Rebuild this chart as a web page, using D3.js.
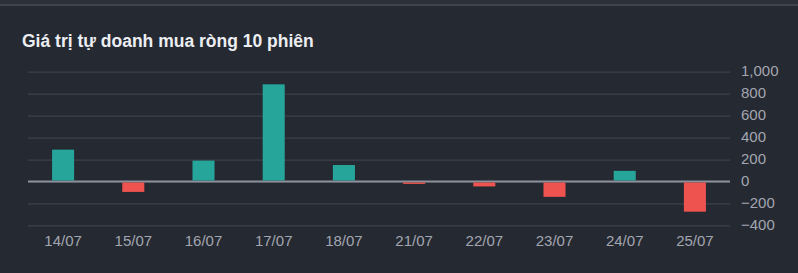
<!DOCTYPE html>
<html lang="vi">
<head>
<meta charset="utf-8">
<title>Giá trị tự doanh mua ròng 10 phiên</title>
<script src="https://cdn.jsdelivr.net/npm/d3@7"></script>
<style>
  body { margin: 0; background: #252932; }
  svg { display: block; }
</style>
</head>
<body>
<script>
// data
var dates = ["14/07", "15/07", "16/07", "17/07", "18/07", "21/07", "22/07", "23/07", "24/07", "25/07"];
var values = [290, -95, 190, 885, 150, -22, -45, -140, 97, -275];
var yTicks = [-400, -200, 0, 200, 400, 600, 800, 1000];

var width = 798, height = 273;
var plotLeft = 28, plotRight = 730, plotTop = 71.7, plotBottom = 225.4;

var svg = d3.select("body").append("svg")
    .attr("width", width)
    .attr("height", height);

svg.append("rect").attr("width", width).attr("height", height).attr("fill", "#252932");
svg.append("rect").attr("width", width).attr("height", 5).attr("fill", "#2c3039");
svg.append("rect").attr("y", 4).attr("width", width).attr("height", 2).attr("fill", "#40444d");

svg.append("text")
    .attr("x", 22)
    .attr("y", 47)
    .attr("fill", "#eceef2")
    .style("font-family", "'Liberation Sans', Arial, sans-serif")
    .style("font-size", "17.5px")
    .style("font-weight", "bold")
    .text("Giá trị tự doanh mua ròng 10 phiên");

var x = d3.scaleBand()
    .domain(dates)
    .range([plotLeft, plotRight])
    .paddingInner(0.686)
    .paddingOuter(0.343);

var y = d3.scaleLinear()
    .domain([-400, 1000])
    .range([plotBottom, plotTop]);

// y axis with gridlines
var yAxis = svg.append("g")
    .attr("transform", "translate(" + plotRight + ",0)")
    .call(d3.axisRight(y).tickValues(yTicks).tickFormat(d3.format(",")).tickSize(-(plotRight - plotLeft)).tickPadding(11));
yAxis.select(".domain").remove();
yAxis.selectAll(".tick line").attr("stroke", "#3d414b").attr("stroke-width", 1.2);
yAxis.selectAll(".tick text")
    .attr("dy", "0.25em")
    .attr("fill", "#a3a6b0")
    .style("font-family", "'Liberation Sans', Arial, sans-serif")
    .style("font-size", "15px");

// zero line
svg.append("line")
    .attr("x1", plotLeft).attr("x2", plotRight)
    .attr("y1", y(0)).attr("y2", y(0))
    .attr("stroke", "#8e919c")
    .attr("stroke-width", 2);

// bars
svg.selectAll("rect.bar")
    .data(values)
    .enter()
    .append("rect")
    .attr("class", "bar")
    .attr("x", function(d, i){ return x(dates[i]); })
    .attr("width", x.bandwidth())
    .attr("y", function(d){ return d >= 0 ? y(d) : y(0) + 1; })
    .attr("height", function(d){ return d >= 0 ? y(0) - y(d) - 1 : y(d) - y(0) - 1; })
    .attr("fill", function(d){ return d >= 0 ? "#26a69a" : "#ef5350"; });

// x axis
var xAxis = svg.append("g")
    .attr("transform", "translate(0," + plotBottom + ")")
    .call(d3.axisBottom(x).tickSize(0).tickPadding(10));
xAxis.select(".domain").remove();
xAxis.selectAll(".tick text")
    .attr("fill", "#a3a6b0")
    .style("font-family", "'Liberation Sans', Arial, sans-serif")
    .style("font-size", "15px");
</script>
</body>
</html>
